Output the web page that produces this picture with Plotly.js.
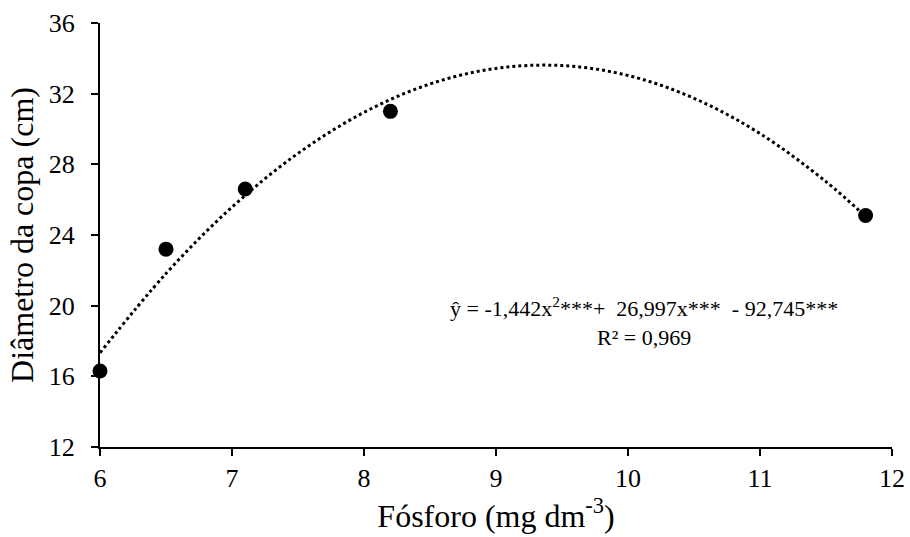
<!DOCTYPE html>
<html>
<head>
<meta charset="utf-8">
<script src="https://cdn.plot.ly/plotly-3.0.1.min.js"></script>
<style>html,body{margin:0;padding:0;background:#fff}#chart{width:910px;height:537px}</style>
</head>
<body>
<div id="chart"></div>
<script>
// Observed data
const fosforo = [6.0, 6.5, 7.1, 8.2, 11.8];
const diametro = [16.3, 23.2, 26.6, 31.0, 25.1];

// Fitted trend curve
const curveX = [6.0, 6.5, 7.0, 7.5, 8.0, 8.5, 9.0, 9.5, 10.0, 10.5, 11.0, 11.5, 11.8];
const curveY = [17.33, 21.82, 25.58, 28.62, 30.94, 32.55, 33.43, 33.59, 33.03, 31.74, 29.74, 27.02, 25.04];

const xTicks = [6, 7, 8, 9, 10, 11, 12];
const yTicks = [12, 16, 20, 24, 28, 32, 36];

const FONT = 'Liberation Serif, Times New Roman, serif';

const traces = [
  {
    x: curveX, y: curveY, type: 'scatter', mode: 'lines',
    line: {color: '#000', width: 3, dash: 'dot', shape: 'spline'},
    hoverinfo: 'skip', cliponaxis: false
  },
  {
    x: fosforo, y: diametro, type: 'scatter', mode: 'markers',
    marker: {color: '#000', size: 15},
    cliponaxis: false
  }
];

const layout = {
  width: 910, height: 537,
  margin: {l: 100, r: 18, t: 23, b: 90},
  paper_bgcolor: '#fff', plot_bgcolor: '#fff',
  showlegend: false,
  font: {family: FONT, color: '#000'},
  xaxis: {
    range: [6, 12], tickvals: xTicks, ticktext: xTicks.map(String),
    showgrid: false, zeroline: false,
    showline: true, linecolor: '#000', linewidth: 2,
    ticks: 'outside', ticklen: 7, tickwidth: 2, tickcolor: '#000',
    tickfont: {family: FONT, size: 26, color: '#000'},
    title: {text: 'Fósforo (mg dm<sup>-3</sup>)', font: {family: FONT, size: 32, color: '#000'}, standoff: 8}
  },
  yaxis: {
    range: [12, 36], tickvals: yTicks, ticktext: yTicks.map(String),
    showgrid: false, zeroline: false,
    showline: true, linecolor: '#000', linewidth: 2,
    ticks: 'outside', ticklen: 7, tickwidth: 2, tickcolor: '#000',
    ticklabelstandoff: 11,
    tickfont: {family: FONT, size: 26, color: '#000'},
    title: {text: 'Diâmetro da copa (cm)', font: {family: FONT, size: 32, color: '#000'}, standoff: 6}
  },
  annotations: [
    {
      xref: 'x', yref: 'y', x: 10.12, y: 19.9, showarrow: false,
      xanchor: 'center', yanchor: 'middle',
      text: 'ŷ = -1,442x<sup>2</sup>***+&nbsp;&nbsp;26,997x***&nbsp;&nbsp;- 92,745***',
      font: {family: FONT, size: 22, color: '#000'}
    },
    {
      xref: 'x', yref: 'y', x: 10.12, y: 18.2, showarrow: false,
      xanchor: 'center', yanchor: 'middle',
      text: 'R² = 0,969',
      font: {family: FONT, size: 22, color: '#000'}
    }
  ]
};

Plotly.newPlot('chart', traces, layout, {displayModeBar: false, staticPlot: true});
</script>
</body>
</html>
